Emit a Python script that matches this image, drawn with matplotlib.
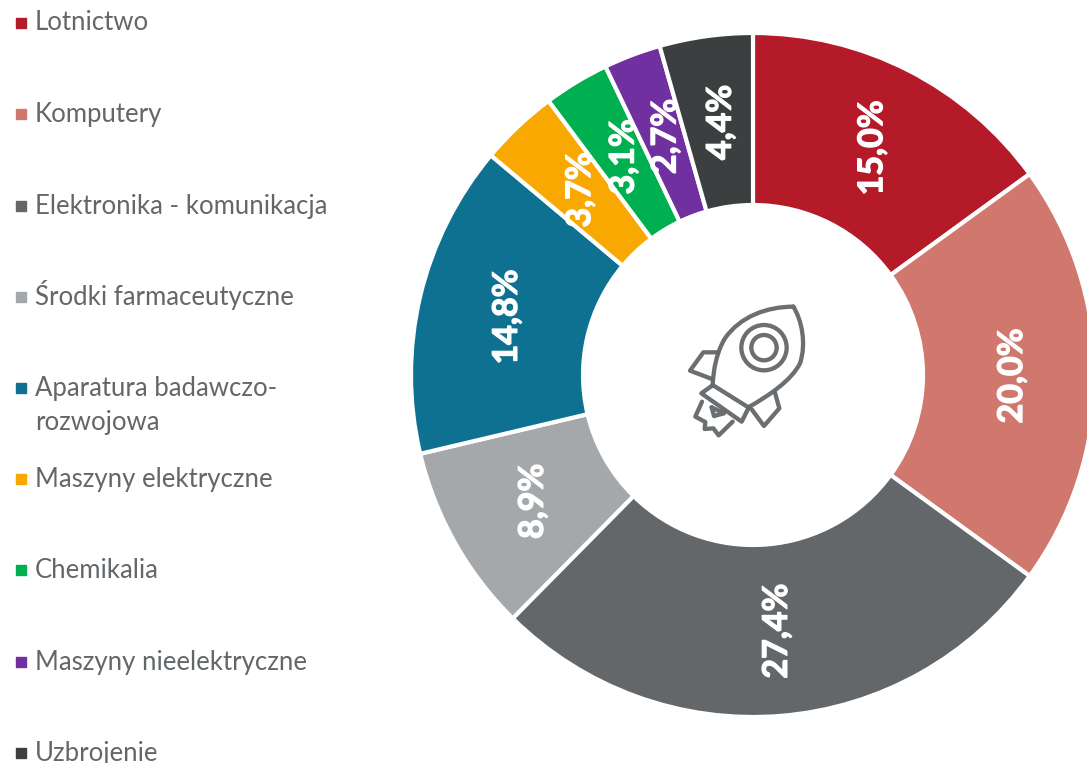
import numpy as np
import matplotlib
matplotlib.use('Agg')
import matplotlib.pyplot as plt
from matplotlib.lines import Line2D
from matplotlib.patches import Circle, PathPatch
from matplotlib.path import Path
from matplotlib.transforms import Affine2D
import matplotlib.patheffects as pe

plt.rcParams['font.family'] = ['Lato', 'DejaVu Sans']

categories = ['Lotnictwo', 'Komputery', 'Elektronika - komunikacja', 'Środki farmaceutyczne',
              'Aparatura badawczo-\nrozwojowa', 'Maszyny elektryczne', 'Chemikalia',
              'Maszyny nieelektryczne', 'Uzbrojenie']
shares = [15.0, 20.0, 27.4, 8.9, 14.8, 3.7, 3.1, 2.7, 4.4]
share_labels = ['15,0%', '20,0%', '27,4%', '8,9%', '14,8%', '3,7%', '3,1%', '2,7%', '4,4%']
colors = ['#B41A28', '#D0786D', '#636769', '#A5A8AA', '#0E7191', '#F8A800', '#00B050', '#7030A0', '#3C3F40']
marker_y = [23, 114, 206, 297, 388, 479, 570, 662, 753]  # px from top
baseline_y = [30, 122, 214, 305, 396, 487, 578, 670, 761]

W, H = 1087, 763
cx, cy = 753, 375
R = 342.0
R_in = 170.0
GREY = '#636769'

fig = plt.figure(figsize=(W / 100, H / 100), dpi=100)
ax = fig.add_axes([0, 0, 1, 1])
wedges, _ = ax.pie(shares, startangle=90, counterclock=False, colors=colors, radius=1,
                   wedgeprops=dict(width=(R - R_in) / R, edgecolor='white', linewidth=3))
ax.set_xlim(-cx / R, (W - cx) / R)
ax.set_ylim(-(H - cy) / R, cy / R)
ax.axis('off')

# labels sit mid ring and all read upwards
r_mid = 0.5 * (R + R_in) / R
for w, lab in zip(wedges, share_labels):
    a = np.deg2rad(0.5 * (w.theta1 + w.theta2))
    t = ax.text(r_mid * np.cos(a) + 3 / R, r_mid * np.sin(a) - 1 / R, lab, rotation=90, ha='center', va='center',
                color='white', fontsize=24.5, fontweight='bold')
    t.set_path_effects([pe.withStroke(linewidth=0.9, foreground='white')])

# legend
for name, col, my, by in zip(categories, colors, marker_y, baseline_y):
    fig.add_artist(Line2D([20.5 / W], [1 - my / H], marker='s', markersize=7.5, color=col,
                          linestyle='none', transform=fig.transFigure))
    # two line entry: the second line drops 34 px
    lines = name.split('\n')
    for i, part in enumerate(lines):
        fig.text(35 / W, 1 - (by + 34 * i) / H, part, color=GREY, fontsize=18.5, ha='left', va='baseline')

# rocket icon, drawn in px of the zoomed crop
icon = Affine2D().scale(1 / 3, -1 / 3).translate(660, H - 280)
M, L, C = Path.MOVETO, Path.LINETO, Path.CURVE4
shapes = [
    # body
    ([(400, 80), (320, 80), (240, 110), (195, 175), (170, 215), (160, 270), (158, 315),
      (265, 382), (330, 345), (395, 300), (420, 250), (440, 190), (425, 120), (400, 80)],
     [M, C, C, C, C, C, C, L, C, C, C, C, C, C]),
    # left fin
    ([(175, 217), (130, 217), (90, 272), (156, 297)], [M, L, L, L]),
    # right fin
    ([(345, 338), (358, 385), (312, 438), (275, 388)], [M, L, L, L]),
    # collar
    ([(155, 318), (124, 340), (245, 425), (265, 385)], [M, L, L, L]),
    # flame
    ([(126, 365), (106, 410), (136, 426), (134, 447), (160, 445), (176, 466), (218, 425)],
     [M, L, L, L, L, L, L]),
    # inner flame
    ([(155, 382), (162, 408), (192, 400), (155, 382)], [M, L, L, L]),
]
for verts, codes in shapes:
    fig.add_artist(PathPatch(Path(verts, codes), facecolor='none', edgecolor=GREY, linewidth=3.1, alpha=0.95,
                             joinstyle='round', capstyle='round', transform=icon))
for rad in (68, 38):
    fig.add_artist(Circle((312, 203), rad, facecolor='none', edgecolor=GREY, linewidth=3.1, alpha=0.95, transform=icon))

fig.savefig('out.png', dpi=100)
